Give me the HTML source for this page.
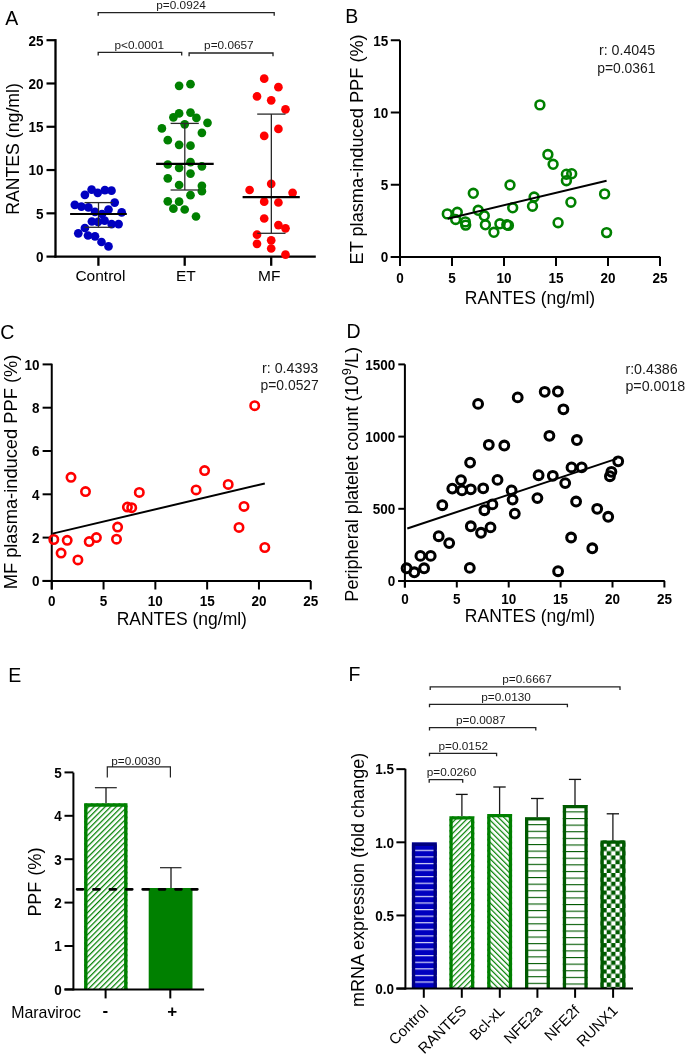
<!DOCTYPE html>
<html><head><meta charset="utf-8"><style>
html,body{margin:0;padding:0;background:#fff;}
svg{display:block;will-change:transform;}
text{font-family:"Liberation Sans", sans-serif;}
</style></head><body>
<svg width="685" height="1055" viewBox="0 0 685 1055" font-family='"Liberation Sans", sans-serif'>
<rect width="685" height="1055" fill="#fff"/>
<text x="5.30" y="24.80" font-size="19.5" text-anchor="start" font-weight="normal" fill="#000" >A</text>
<line x1="55.50" y1="39.10" x2="55.50" y2="257.60" stroke="#000" stroke-width="2.3" />
<line x1="54.50" y1="256.60" x2="315.80" y2="256.60" stroke="#000" stroke-width="2.3" />
<line x1="46.50" y1="256.60" x2="55.50" y2="256.60" stroke="#000" stroke-width="2.2" />
<text transform="translate(43.60,261.90) scale(1,1.07)" font-size="13.5" text-anchor="end" font-weight="bold">0</text>
<line x1="46.50" y1="213.32" x2="55.50" y2="213.32" stroke="#000" stroke-width="2.2" />
<text transform="translate(43.60,218.62) scale(1,1.07)" font-size="13.5" text-anchor="end" font-weight="bold">5</text>
<line x1="46.50" y1="170.04" x2="55.50" y2="170.04" stroke="#000" stroke-width="2.2" />
<text transform="translate(43.60,175.34) scale(1,1.07)" font-size="13.5" text-anchor="end" font-weight="bold">10</text>
<line x1="46.50" y1="126.76" x2="55.50" y2="126.76" stroke="#000" stroke-width="2.2" />
<text transform="translate(43.60,132.06) scale(1,1.07)" font-size="13.5" text-anchor="end" font-weight="bold">15</text>
<line x1="46.50" y1="83.48" x2="55.50" y2="83.48" stroke="#000" stroke-width="2.2" />
<text transform="translate(43.60,88.78) scale(1,1.07)" font-size="13.5" text-anchor="end" font-weight="bold">20</text>
<line x1="46.50" y1="40.20" x2="55.50" y2="40.20" stroke="#000" stroke-width="2.2" />
<text transform="translate(43.60,45.50) scale(1,1.07)" font-size="13.5" text-anchor="end" font-weight="bold">25</text>
<line x1="98.40" y1="256.60" x2="98.40" y2="265.80" stroke="#000" stroke-width="2.3" />
<text x="100.40" y="280.50" font-size="15.5" text-anchor="middle" font-weight="normal" fill="#000" >Control</text>
<line x1="184.70" y1="256.60" x2="184.70" y2="265.80" stroke="#000" stroke-width="2.3" />
<text x="185.80" y="280.50" font-size="15.5" text-anchor="middle" font-weight="normal" fill="#000" >ET</text>
<line x1="271.20" y1="256.60" x2="271.20" y2="265.80" stroke="#000" stroke-width="2.3" />
<text x="269.20" y="280.50" font-size="15.5" text-anchor="middle" font-weight="normal" fill="#000" >MF</text>
<text transform="translate(19.3,149) rotate(-90)" font-size="17.7" text-anchor="middle">RANTES (ng/ml)</text>
<circle cx="74.80" cy="204.80" r="4.35" fill="#0000c0" stroke="none" stroke-width="0"/>
<circle cx="81.40" cy="206.60" r="4.35" fill="#0000c0" stroke="none" stroke-width="0"/>
<circle cx="88.40" cy="207.40" r="4.35" fill="#0000c0" stroke="none" stroke-width="0"/>
<circle cx="95.00" cy="211.80" r="4.35" fill="#0000c0" stroke="none" stroke-width="0"/>
<circle cx="108.50" cy="209.60" r="4.35" fill="#0000c0" stroke="none" stroke-width="0"/>
<circle cx="114.70" cy="202.60" r="4.35" fill="#0000c0" stroke="none" stroke-width="0"/>
<circle cx="121.70" cy="212.30" r="4.35" fill="#0000c0" stroke="none" stroke-width="0"/>
<circle cx="102.00" cy="214.00" r="4.35" fill="#0000c0" stroke="none" stroke-width="0"/>
<circle cx="91.90" cy="221.50" r="4.35" fill="#0000c0" stroke="none" stroke-width="0"/>
<circle cx="98.00" cy="221.90" r="4.35" fill="#0000c0" stroke="none" stroke-width="0"/>
<circle cx="104.60" cy="220.60" r="4.35" fill="#0000c0" stroke="none" stroke-width="0"/>
<circle cx="111.60" cy="224.10" r="4.35" fill="#0000c0" stroke="none" stroke-width="0"/>
<circle cx="118.60" cy="224.10" r="4.35" fill="#0000c0" stroke="none" stroke-width="0"/>
<circle cx="84.90" cy="228.00" r="4.35" fill="#0000c0" stroke="none" stroke-width="0"/>
<circle cx="78.30" cy="233.30" r="4.35" fill="#0000c0" stroke="none" stroke-width="0"/>
<circle cx="88.00" cy="235.50" r="4.35" fill="#0000c0" stroke="none" stroke-width="0"/>
<circle cx="95.00" cy="236.30" r="4.35" fill="#0000c0" stroke="none" stroke-width="0"/>
<circle cx="101.50" cy="242.00" r="4.35" fill="#0000c0" stroke="none" stroke-width="0"/>
<circle cx="108.50" cy="246.40" r="4.35" fill="#0000c0" stroke="none" stroke-width="0"/>
<circle cx="91.60" cy="189.70" r="4.35" fill="#0000c0" stroke="none" stroke-width="0"/>
<circle cx="84.90" cy="194.80" r="4.35" fill="#0000c0" stroke="none" stroke-width="0"/>
<circle cx="97.70" cy="192.80" r="4.35" fill="#0000c0" stroke="none" stroke-width="0"/>
<circle cx="104.90" cy="190.20" r="4.35" fill="#0000c0" stroke="none" stroke-width="0"/>
<circle cx="111.50" cy="190.70" r="4.35" fill="#0000c0" stroke="none" stroke-width="0"/>
<circle cx="179.10" cy="85.80" r="4.35" fill="#008000" stroke="none" stroke-width="0"/>
<circle cx="190.50" cy="84.20" r="4.35" fill="#008000" stroke="none" stroke-width="0"/>
<circle cx="179.10" cy="113.40" r="4.35" fill="#008000" stroke="none" stroke-width="0"/>
<circle cx="173.40" cy="117.30" r="4.35" fill="#008000" stroke="none" stroke-width="0"/>
<circle cx="190.50" cy="112.60" r="4.35" fill="#008000" stroke="none" stroke-width="0"/>
<circle cx="196.40" cy="117.90" r="4.35" fill="#008000" stroke="none" stroke-width="0"/>
<circle cx="207.50" cy="122.80" r="4.35" fill="#008000" stroke="none" stroke-width="0"/>
<circle cx="184.70" cy="124.30" r="4.35" fill="#008000" stroke="none" stroke-width="0"/>
<circle cx="161.90" cy="128.40" r="4.35" fill="#008000" stroke="none" stroke-width="0"/>
<circle cx="201.90" cy="132.80" r="4.35" fill="#008000" stroke="none" stroke-width="0"/>
<circle cx="167.80" cy="140.20" r="4.35" fill="#008000" stroke="none" stroke-width="0"/>
<circle cx="179.10" cy="144.80" r="4.35" fill="#008000" stroke="none" stroke-width="0"/>
<circle cx="190.50" cy="145.70" r="4.35" fill="#008000" stroke="none" stroke-width="0"/>
<circle cx="167.80" cy="164.50" r="4.35" fill="#008000" stroke="none" stroke-width="0"/>
<circle cx="179.10" cy="167.80" r="4.35" fill="#008000" stroke="none" stroke-width="0"/>
<circle cx="190.50" cy="162.20" r="4.35" fill="#008000" stroke="none" stroke-width="0"/>
<circle cx="201.90" cy="166.30" r="4.35" fill="#008000" stroke="none" stroke-width="0"/>
<circle cx="190.50" cy="173.60" r="4.35" fill="#008000" stroke="none" stroke-width="0"/>
<circle cx="167.80" cy="178.30" r="4.35" fill="#008000" stroke="none" stroke-width="0"/>
<circle cx="179.10" cy="185.00" r="4.35" fill="#008000" stroke="none" stroke-width="0"/>
<circle cx="201.90" cy="185.80" r="4.35" fill="#008000" stroke="none" stroke-width="0"/>
<circle cx="201.90" cy="191.20" r="4.35" fill="#008000" stroke="none" stroke-width="0"/>
<circle cx="190.50" cy="195.20" r="4.35" fill="#008000" stroke="none" stroke-width="0"/>
<circle cx="167.80" cy="201.30" r="4.35" fill="#008000" stroke="none" stroke-width="0"/>
<circle cx="179.10" cy="201.70" r="4.35" fill="#008000" stroke="none" stroke-width="0"/>
<circle cx="173.40" cy="208.70" r="4.35" fill="#008000" stroke="none" stroke-width="0"/>
<circle cx="184.70" cy="209.50" r="4.35" fill="#008000" stroke="none" stroke-width="0"/>
<circle cx="196.00" cy="216.50" r="4.35" fill="#008000" stroke="none" stroke-width="0"/>
<circle cx="264.20" cy="78.70" r="4.35" fill="#ff0000" stroke="none" stroke-width="0"/>
<circle cx="278.40" cy="87.20" r="4.35" fill="#ff0000" stroke="none" stroke-width="0"/>
<circle cx="257.00" cy="96.40" r="4.35" fill="#ff0000" stroke="none" stroke-width="0"/>
<circle cx="271.20" cy="100.30" r="4.35" fill="#ff0000" stroke="none" stroke-width="0"/>
<circle cx="285.50" cy="109.30" r="4.35" fill="#ff0000" stroke="none" stroke-width="0"/>
<circle cx="278.40" cy="128.90" r="4.35" fill="#ff0000" stroke="none" stroke-width="0"/>
<circle cx="264.20" cy="135.90" r="4.35" fill="#ff0000" stroke="none" stroke-width="0"/>
<circle cx="271.20" cy="183.80" r="4.35" fill="#ff0000" stroke="none" stroke-width="0"/>
<circle cx="249.60" cy="190.00" r="4.35" fill="#ff0000" stroke="none" stroke-width="0"/>
<circle cx="292.60" cy="192.80" r="4.35" fill="#ff0000" stroke="none" stroke-width="0"/>
<circle cx="264.20" cy="201.70" r="4.35" fill="#ff0000" stroke="none" stroke-width="0"/>
<circle cx="278.40" cy="202.50" r="4.35" fill="#ff0000" stroke="none" stroke-width="0"/>
<circle cx="264.20" cy="218.50" r="4.35" fill="#ff0000" stroke="none" stroke-width="0"/>
<circle cx="278.40" cy="225.10" r="4.35" fill="#ff0000" stroke="none" stroke-width="0"/>
<circle cx="285.50" cy="228.30" r="4.35" fill="#ff0000" stroke="none" stroke-width="0"/>
<circle cx="257.00" cy="234.70" r="4.35" fill="#ff0000" stroke="none" stroke-width="0"/>
<circle cx="271.20" cy="240.30" r="4.35" fill="#ff0000" stroke="none" stroke-width="0"/>
<circle cx="257.00" cy="243.80" r="4.35" fill="#ff0000" stroke="none" stroke-width="0"/>
<circle cx="271.20" cy="248.50" r="4.35" fill="#ff0000" stroke="none" stroke-width="0"/>
<circle cx="285.50" cy="254.70" r="4.35" fill="#ff0000" stroke="none" stroke-width="0"/>
<line x1="98.50" y1="202.60" x2="98.50" y2="227.30" stroke="#2a2a2a" stroke-width="1.3" />
<line x1="84.50" y1="202.60" x2="112.50" y2="202.60" stroke="#2a2a2a" stroke-width="1.3" />
<line x1="84.50" y1="227.30" x2="112.50" y2="227.30" stroke="#2a2a2a" stroke-width="1.3" />
<line x1="70.10" y1="214.00" x2="126.80" y2="214.00" stroke="#000" stroke-width="2.2" />
<line x1="184.80" y1="123.40" x2="184.80" y2="190.00" stroke="#2a2a2a" stroke-width="1.3" />
<line x1="170.60" y1="123.40" x2="198.80" y2="123.40" stroke="#2a2a2a" stroke-width="1.3" />
<line x1="170.60" y1="190.00" x2="198.80" y2="190.00" stroke="#2a2a2a" stroke-width="1.3" />
<line x1="156.10" y1="163.80" x2="213.70" y2="163.80" stroke="#000" stroke-width="2.2" />
<line x1="271.35" y1="114.10" x2="271.35" y2="233.30" stroke="#2a2a2a" stroke-width="1.3" />
<line x1="257.20" y1="114.10" x2="285.50" y2="114.10" stroke="#2a2a2a" stroke-width="1.3" />
<line x1="257.20" y1="233.30" x2="285.50" y2="233.30" stroke="#2a2a2a" stroke-width="1.3" />
<line x1="242.60" y1="197.20" x2="299.80" y2="197.20" stroke="#000" stroke-width="2.2" />
<path d="M98.20,15.80 V12.60 H274.20 V15.80" fill="none" stroke="#222" stroke-width="1.3"/>
<path d="M98.20,55.50 V52.30 H181.70 V55.50" fill="none" stroke="#222" stroke-width="1.3"/>
<path d="M189.10,56.20 V53.00 H273.00 V56.20" fill="none" stroke="#222" stroke-width="1.3"/>
<text x="156.30" y="9.20" font-size="11.8" text-anchor="start" font-weight="normal" fill="#1a1a1a" >p=0.0924</text>
<text x="114.50" y="48.70" font-size="11.8" text-anchor="start" font-weight="normal" fill="#1a1a1a" >p&lt;0.0001</text>
<text x="204.10" y="49.10" font-size="11.8" text-anchor="start" font-weight="normal" fill="#1a1a1a" >p=0.0657</text>
<text x="345.30" y="22.60" font-size="19.5" text-anchor="start" font-weight="normal" fill="#000" >B</text>
<line x1="400.00" y1="40.20" x2="400.00" y2="266.00" stroke="#000" stroke-width="2" />
<line x1="390.80" y1="257.00" x2="660.20" y2="257.00" stroke="#000" stroke-width="2" />
<line x1="390.80" y1="257.00" x2="400.00" y2="257.00" stroke="#000" stroke-width="2" />
<text transform="translate(388.20,262.30) scale(1,1.07)" font-size="13.5" text-anchor="end" font-weight="bold">0</text>
<line x1="390.80" y1="184.75" x2="400.00" y2="184.75" stroke="#000" stroke-width="2" />
<text transform="translate(388.20,190.05) scale(1,1.07)" font-size="13.5" text-anchor="end" font-weight="bold">5</text>
<line x1="390.80" y1="112.50" x2="400.00" y2="112.50" stroke="#000" stroke-width="2" />
<text transform="translate(388.20,117.80) scale(1,1.07)" font-size="13.5" text-anchor="end" font-weight="bold">10</text>
<line x1="390.80" y1="40.25" x2="400.00" y2="40.25" stroke="#000" stroke-width="2" />
<text transform="translate(388.20,45.55) scale(1,1.07)" font-size="13.5" text-anchor="end" font-weight="bold">15</text>
<line x1="400.00" y1="257.00" x2="400.00" y2="266.00" stroke="#000" stroke-width="2" />
<text transform="translate(400.00,282.60) scale(1,1.07)" font-size="13.5" text-anchor="middle" font-weight="bold">0</text>
<line x1="452.00" y1="257.00" x2="452.00" y2="266.00" stroke="#000" stroke-width="2" />
<text transform="translate(452.00,282.60) scale(1,1.07)" font-size="13.5" text-anchor="middle" font-weight="bold">5</text>
<line x1="504.00" y1="257.00" x2="504.00" y2="266.00" stroke="#000" stroke-width="2" />
<text transform="translate(504.00,282.60) scale(1,1.07)" font-size="13.5" text-anchor="middle" font-weight="bold">10</text>
<line x1="556.00" y1="257.00" x2="556.00" y2="266.00" stroke="#000" stroke-width="2" />
<text transform="translate(556.00,282.60) scale(1,1.07)" font-size="13.5" text-anchor="middle" font-weight="bold">15</text>
<line x1="608.00" y1="257.00" x2="608.00" y2="266.00" stroke="#000" stroke-width="2" />
<text transform="translate(608.00,282.60) scale(1,1.07)" font-size="13.5" text-anchor="middle" font-weight="bold">20</text>
<line x1="660.00" y1="257.00" x2="660.00" y2="266.00" stroke="#000" stroke-width="2" />
<text transform="translate(660.00,282.60) scale(1,1.07)" font-size="13.5" text-anchor="middle" font-weight="bold">25</text>
<text x="530.00" y="303.90" font-size="17.5" text-anchor="middle" font-weight="normal" fill="#000" >RANTES (ng/ml)</text>
<text transform="translate(363.1,149.4) rotate(-90)" font-size="18.2" text-anchor="middle">ET plasma-induced PPF (%)</text>
<text x="598.90" y="55.00" font-size="14.25" text-anchor="start" font-weight="normal" fill="#1a1a1a" >r: 0.4045</text>
<text x="597.20" y="72.70" font-size="13.9" text-anchor="start" font-weight="normal" fill="#1a1a1a" >p=0.0361</text>
<circle cx="447.30" cy="213.90" r="4.4" fill="none" stroke="#008000" stroke-width="2.6"/>
<circle cx="457.30" cy="212.30" r="4.4" fill="none" stroke="#008000" stroke-width="2.6"/>
<circle cx="455.70" cy="219.50" r="4.4" fill="none" stroke="#008000" stroke-width="2.6"/>
<circle cx="465.30" cy="221.90" r="4.4" fill="none" stroke="#008000" stroke-width="2.6"/>
<circle cx="465.70" cy="225.10" r="4.4" fill="none" stroke="#008000" stroke-width="2.6"/>
<circle cx="473.30" cy="193.30" r="4.4" fill="none" stroke="#008000" stroke-width="2.6"/>
<circle cx="478.20" cy="210.30" r="4.4" fill="none" stroke="#008000" stroke-width="2.6"/>
<circle cx="484.30" cy="215.80" r="4.4" fill="none" stroke="#008000" stroke-width="2.6"/>
<circle cx="485.40" cy="224.80" r="4.4" fill="none" stroke="#008000" stroke-width="2.6"/>
<circle cx="493.90" cy="232.30" r="4.4" fill="none" stroke="#008000" stroke-width="2.6"/>
<circle cx="499.90" cy="223.80" r="4.4" fill="none" stroke="#008000" stroke-width="2.6"/>
<circle cx="506.80" cy="224.80" r="4.4" fill="none" stroke="#008000" stroke-width="2.6"/>
<circle cx="508.40" cy="225.40" r="4.4" fill="none" stroke="#008000" stroke-width="2.6"/>
<circle cx="510.00" cy="185.00" r="4.4" fill="none" stroke="#008000" stroke-width="2.6"/>
<circle cx="512.70" cy="207.80" r="4.4" fill="none" stroke="#008000" stroke-width="2.6"/>
<circle cx="532.50" cy="206.20" r="4.4" fill="none" stroke="#008000" stroke-width="2.6"/>
<circle cx="534.10" cy="197.00" r="4.4" fill="none" stroke="#008000" stroke-width="2.6"/>
<circle cx="539.90" cy="104.90" r="4.4" fill="none" stroke="#008000" stroke-width="2.6"/>
<circle cx="547.90" cy="154.50" r="4.4" fill="none" stroke="#008000" stroke-width="2.6"/>
<circle cx="553.10" cy="164.30" r="4.4" fill="none" stroke="#008000" stroke-width="2.6"/>
<circle cx="566.40" cy="174.20" r="4.4" fill="none" stroke="#008000" stroke-width="2.6"/>
<circle cx="571.70" cy="173.70" r="4.4" fill="none" stroke="#008000" stroke-width="2.6"/>
<circle cx="566.40" cy="180.70" r="4.4" fill="none" stroke="#008000" stroke-width="2.6"/>
<circle cx="570.90" cy="202.20" r="4.4" fill="none" stroke="#008000" stroke-width="2.6"/>
<circle cx="604.60" cy="193.90" r="4.4" fill="none" stroke="#008000" stroke-width="2.6"/>
<circle cx="558.10" cy="222.70" r="4.4" fill="none" stroke="#008000" stroke-width="2.6"/>
<circle cx="606.60" cy="232.60" r="4.4" fill="none" stroke="#008000" stroke-width="2.6"/>
<line x1="447.70" y1="218.70" x2="606.60" y2="180.70" stroke="#000" stroke-width="2" />
<text x="0.30" y="338.60" font-size="19.5" text-anchor="start" font-weight="normal" fill="#000" >C</text>
<line x1="51.75" y1="363.70" x2="51.75" y2="589.50" stroke="#000" stroke-width="2" />
<line x1="42.60" y1="580.90" x2="311.00" y2="580.90" stroke="#000" stroke-width="2" />
<line x1="42.60" y1="580.90" x2="51.75" y2="580.90" stroke="#000" stroke-width="2" />
<text transform="translate(39.60,586.20) scale(1,1.07)" font-size="13.5" text-anchor="end" font-weight="bold">0</text>
<line x1="42.60" y1="537.60" x2="51.75" y2="537.60" stroke="#000" stroke-width="2" />
<text transform="translate(39.60,542.90) scale(1,1.07)" font-size="13.5" text-anchor="end" font-weight="bold">2</text>
<line x1="42.60" y1="494.30" x2="51.75" y2="494.30" stroke="#000" stroke-width="2" />
<text transform="translate(39.60,499.60) scale(1,1.07)" font-size="13.5" text-anchor="end" font-weight="bold">4</text>
<line x1="42.60" y1="451.00" x2="51.75" y2="451.00" stroke="#000" stroke-width="2" />
<text transform="translate(39.60,456.30) scale(1,1.07)" font-size="13.5" text-anchor="end" font-weight="bold">6</text>
<line x1="42.60" y1="407.70" x2="51.75" y2="407.70" stroke="#000" stroke-width="2" />
<text transform="translate(39.60,413.00) scale(1,1.07)" font-size="13.5" text-anchor="end" font-weight="bold">8</text>
<line x1="42.60" y1="364.40" x2="51.75" y2="364.40" stroke="#000" stroke-width="2" />
<text transform="translate(39.60,369.70) scale(1,1.07)" font-size="13.5" text-anchor="end" font-weight="bold">10</text>
<line x1="51.75" y1="580.90" x2="51.75" y2="589.50" stroke="#000" stroke-width="2" />
<text transform="translate(51.75,605.80) scale(1,1.07)" font-size="13.5" text-anchor="middle" font-weight="bold">0</text>
<line x1="103.55" y1="580.90" x2="103.55" y2="589.50" stroke="#000" stroke-width="2" />
<text transform="translate(103.55,605.80) scale(1,1.07)" font-size="13.5" text-anchor="middle" font-weight="bold">5</text>
<line x1="155.35" y1="580.90" x2="155.35" y2="589.50" stroke="#000" stroke-width="2" />
<text transform="translate(155.35,605.80) scale(1,1.07)" font-size="13.5" text-anchor="middle" font-weight="bold">10</text>
<line x1="207.15" y1="580.90" x2="207.15" y2="589.50" stroke="#000" stroke-width="2" />
<text transform="translate(207.15,605.80) scale(1,1.07)" font-size="13.5" text-anchor="middle" font-weight="bold">15</text>
<line x1="258.95" y1="580.90" x2="258.95" y2="589.50" stroke="#000" stroke-width="2" />
<text transform="translate(258.95,605.80) scale(1,1.07)" font-size="13.5" text-anchor="middle" font-weight="bold">20</text>
<line x1="310.75" y1="580.90" x2="310.75" y2="589.50" stroke="#000" stroke-width="2" />
<text transform="translate(310.75,605.80) scale(1,1.07)" font-size="13.5" text-anchor="middle" font-weight="bold">25</text>
<text x="181.80" y="625.00" font-size="17.5" text-anchor="middle" font-weight="normal" fill="#000" >RANTES (ng/ml)</text>
<text transform="translate(17.3,472) rotate(-90)" font-size="18.3" text-anchor="middle">MF plasma-induced PPF (%)</text>
<text x="262.00" y="372.80" font-size="14.25" text-anchor="start" font-weight="normal" fill="#1a1a1a" >r: 0.4393</text>
<text x="260.50" y="390.10" font-size="13.9" text-anchor="start" font-weight="normal" fill="#1a1a1a" >p=0.0527</text>
<circle cx="71.00" cy="477.30" r="4.2" fill="none" stroke="#ff0000" stroke-width="2.6"/>
<circle cx="85.50" cy="491.60" r="4.2" fill="none" stroke="#ff0000" stroke-width="2.6"/>
<circle cx="139.30" cy="492.40" r="4.2" fill="none" stroke="#ff0000" stroke-width="2.6"/>
<circle cx="127.40" cy="507.10" r="4.2" fill="none" stroke="#ff0000" stroke-width="2.6"/>
<circle cx="131.70" cy="507.70" r="4.2" fill="none" stroke="#ff0000" stroke-width="2.6"/>
<circle cx="117.60" cy="527.10" r="4.2" fill="none" stroke="#ff0000" stroke-width="2.6"/>
<circle cx="53.80" cy="539.50" r="4.2" fill="none" stroke="#ff0000" stroke-width="2.6"/>
<circle cx="67.20" cy="540.30" r="4.2" fill="none" stroke="#ff0000" stroke-width="2.6"/>
<circle cx="89.20" cy="541.60" r="4.2" fill="none" stroke="#ff0000" stroke-width="2.6"/>
<circle cx="96.40" cy="537.60" r="4.2" fill="none" stroke="#ff0000" stroke-width="2.6"/>
<circle cx="116.50" cy="539.20" r="4.2" fill="none" stroke="#ff0000" stroke-width="2.6"/>
<circle cx="61.10" cy="553.10" r="4.2" fill="none" stroke="#ff0000" stroke-width="2.6"/>
<circle cx="77.90" cy="559.90" r="4.2" fill="none" stroke="#ff0000" stroke-width="2.6"/>
<circle cx="254.70" cy="405.70" r="4.2" fill="none" stroke="#ff0000" stroke-width="2.6"/>
<circle cx="204.60" cy="470.60" r="4.2" fill="none" stroke="#ff0000" stroke-width="2.6"/>
<circle cx="228.20" cy="484.40" r="4.2" fill="none" stroke="#ff0000" stroke-width="2.6"/>
<circle cx="196.10" cy="489.90" r="4.2" fill="none" stroke="#ff0000" stroke-width="2.6"/>
<circle cx="244.00" cy="506.40" r="4.2" fill="none" stroke="#ff0000" stroke-width="2.6"/>
<circle cx="239.00" cy="527.40" r="4.2" fill="none" stroke="#ff0000" stroke-width="2.6"/>
<circle cx="264.80" cy="547.50" r="4.2" fill="none" stroke="#ff0000" stroke-width="2.6"/>
<line x1="52.50" y1="533.60" x2="264.80" y2="483.50" stroke="#000" stroke-width="2" />
<text x="346.50" y="338.30" font-size="19.5" text-anchor="start" font-weight="normal" fill="#000" >D</text>
<line x1="404.90" y1="364.30" x2="404.90" y2="587.50" stroke="#000" stroke-width="2" />
<line x1="398.30" y1="581.00" x2="664.80" y2="581.00" stroke="#000" stroke-width="2" />
<line x1="398.30" y1="581.00" x2="404.90" y2="581.00" stroke="#000" stroke-width="2" />
<text transform="translate(395.20,586.30) scale(1,1.07)" font-size="13.5" text-anchor="end" font-weight="bold">0</text>
<line x1="398.30" y1="508.80" x2="404.90" y2="508.80" stroke="#000" stroke-width="2" />
<text transform="translate(395.20,514.10) scale(1,1.07)" font-size="13.5" text-anchor="end" font-weight="bold">500</text>
<line x1="398.30" y1="436.60" x2="404.90" y2="436.60" stroke="#000" stroke-width="2" />
<text transform="translate(395.20,441.90) scale(1,1.07)" font-size="13.5" text-anchor="end" font-weight="bold">1000</text>
<line x1="398.30" y1="364.40" x2="404.90" y2="364.40" stroke="#000" stroke-width="2" />
<text transform="translate(395.20,369.70) scale(1,1.07)" font-size="13.5" text-anchor="end" font-weight="bold">1500</text>
<line x1="404.90" y1="581.00" x2="404.90" y2="587.50" stroke="#000" stroke-width="2" />
<text transform="translate(404.90,603.70) scale(1,1.07)" font-size="13.5" text-anchor="middle" font-weight="bold">0</text>
<line x1="456.80" y1="581.00" x2="456.80" y2="587.50" stroke="#000" stroke-width="2" />
<text transform="translate(456.80,603.70) scale(1,1.07)" font-size="13.5" text-anchor="middle" font-weight="bold">5</text>
<line x1="508.70" y1="581.00" x2="508.70" y2="587.50" stroke="#000" stroke-width="2" />
<text transform="translate(508.70,603.70) scale(1,1.07)" font-size="13.5" text-anchor="middle" font-weight="bold">10</text>
<line x1="560.60" y1="581.00" x2="560.60" y2="587.50" stroke="#000" stroke-width="2" />
<text transform="translate(560.60,603.70) scale(1,1.07)" font-size="13.5" text-anchor="middle" font-weight="bold">15</text>
<line x1="612.50" y1="581.00" x2="612.50" y2="587.50" stroke="#000" stroke-width="2" />
<text transform="translate(612.50,603.70) scale(1,1.07)" font-size="13.5" text-anchor="middle" font-weight="bold">20</text>
<line x1="664.40" y1="581.00" x2="664.40" y2="587.50" stroke="#000" stroke-width="2" />
<text transform="translate(664.40,603.70) scale(1,1.07)" font-size="13.5" text-anchor="middle" font-weight="bold">25</text>
<text x="530.00" y="622.20" font-size="17.5" text-anchor="middle" font-weight="normal" fill="#000" >RANTES (ng/ml)</text>
<text transform="translate(358.3,474.3) rotate(-90)" font-size="18.1" text-anchor="middle">Peripheral platelet count (10<tspan font-size="13" dy="-7.5">9</tspan><tspan dy="7.5">/L)</tspan></text>
<text x="625.40" y="373.50" font-size="14.25" text-anchor="start" font-weight="normal" fill="#1a1a1a" >r:0.4386</text>
<text x="625.40" y="390.80" font-size="14.25" text-anchor="start" font-weight="normal" fill="#1a1a1a" >p=0.0018</text>
<circle cx="406.60" cy="568.30" r="4.4" fill="none" stroke="#000" stroke-width="3.05"/>
<circle cx="414.30" cy="572.30" r="4.4" fill="none" stroke="#000" stroke-width="3.05"/>
<circle cx="424.10" cy="568.30" r="4.4" fill="none" stroke="#000" stroke-width="3.05"/>
<circle cx="420.40" cy="555.90" r="4.4" fill="none" stroke="#000" stroke-width="3.05"/>
<circle cx="430.70" cy="555.90" r="4.4" fill="none" stroke="#000" stroke-width="3.05"/>
<circle cx="438.70" cy="536.20" r="4.4" fill="none" stroke="#000" stroke-width="3.05"/>
<circle cx="449.20" cy="543.10" r="4.4" fill="none" stroke="#000" stroke-width="3.05"/>
<circle cx="442.30" cy="505.20" r="4.4" fill="none" stroke="#000" stroke-width="3.05"/>
<circle cx="452.30" cy="488.60" r="4.4" fill="none" stroke="#000" stroke-width="3.05"/>
<circle cx="461.00" cy="480.10" r="4.4" fill="none" stroke="#000" stroke-width="3.05"/>
<circle cx="462.00" cy="490.40" r="4.4" fill="none" stroke="#000" stroke-width="3.05"/>
<circle cx="470.80" cy="489.30" r="4.4" fill="none" stroke="#000" stroke-width="3.05"/>
<circle cx="470.10" cy="462.60" r="4.4" fill="none" stroke="#000" stroke-width="3.05"/>
<circle cx="478.10" cy="403.90" r="4.4" fill="none" stroke="#000" stroke-width="3.05"/>
<circle cx="483.20" cy="488.30" r="4.4" fill="none" stroke="#000" stroke-width="3.05"/>
<circle cx="488.80" cy="444.80" r="4.4" fill="none" stroke="#000" stroke-width="3.05"/>
<circle cx="504.30" cy="445.50" r="4.4" fill="none" stroke="#000" stroke-width="3.05"/>
<circle cx="497.50" cy="479.90" r="4.4" fill="none" stroke="#000" stroke-width="3.05"/>
<circle cx="492.40" cy="504.40" r="4.4" fill="none" stroke="#000" stroke-width="3.05"/>
<circle cx="484.40" cy="510.20" r="4.4" fill="none" stroke="#000" stroke-width="3.05"/>
<circle cx="470.80" cy="526.30" r="4.4" fill="none" stroke="#000" stroke-width="3.05"/>
<circle cx="481.00" cy="532.80" r="4.4" fill="none" stroke="#000" stroke-width="3.05"/>
<circle cx="490.50" cy="527.40" r="4.4" fill="none" stroke="#000" stroke-width="3.05"/>
<circle cx="469.80" cy="567.90" r="4.4" fill="none" stroke="#000" stroke-width="3.05"/>
<circle cx="511.60" cy="490.40" r="4.4" fill="none" stroke="#000" stroke-width="3.05"/>
<circle cx="512.60" cy="499.60" r="4.4" fill="none" stroke="#000" stroke-width="3.05"/>
<circle cx="514.80" cy="513.60" r="4.4" fill="none" stroke="#000" stroke-width="3.05"/>
<circle cx="517.70" cy="397.40" r="4.4" fill="none" stroke="#000" stroke-width="3.05"/>
<circle cx="544.70" cy="391.80" r="4.4" fill="none" stroke="#000" stroke-width="3.05"/>
<circle cx="557.90" cy="391.50" r="4.4" fill="none" stroke="#000" stroke-width="3.05"/>
<circle cx="563.40" cy="409.30" r="4.4" fill="none" stroke="#000" stroke-width="3.05"/>
<circle cx="549.40" cy="435.80" r="4.4" fill="none" stroke="#000" stroke-width="3.05"/>
<circle cx="576.90" cy="440.00" r="4.4" fill="none" stroke="#000" stroke-width="3.05"/>
<circle cx="538.60" cy="475.20" r="4.4" fill="none" stroke="#000" stroke-width="3.05"/>
<circle cx="552.80" cy="475.80" r="4.4" fill="none" stroke="#000" stroke-width="3.05"/>
<circle cx="565.20" cy="483.10" r="4.4" fill="none" stroke="#000" stroke-width="3.05"/>
<circle cx="571.50" cy="467.40" r="4.4" fill="none" stroke="#000" stroke-width="3.05"/>
<circle cx="581.70" cy="467.40" r="4.4" fill="none" stroke="#000" stroke-width="3.05"/>
<circle cx="537.40" cy="498.10" r="4.4" fill="none" stroke="#000" stroke-width="3.05"/>
<circle cx="576.10" cy="501.50" r="4.4" fill="none" stroke="#000" stroke-width="3.05"/>
<circle cx="571.10" cy="537.50" r="4.4" fill="none" stroke="#000" stroke-width="3.05"/>
<circle cx="592.30" cy="548.30" r="4.4" fill="none" stroke="#000" stroke-width="3.05"/>
<circle cx="558.10" cy="571.20" r="4.4" fill="none" stroke="#000" stroke-width="3.05"/>
<circle cx="597.20" cy="508.80" r="4.4" fill="none" stroke="#000" stroke-width="3.05"/>
<circle cx="608.20" cy="516.80" r="4.4" fill="none" stroke="#000" stroke-width="3.05"/>
<circle cx="618.20" cy="461.30" r="4.4" fill="none" stroke="#000" stroke-width="3.05"/>
<circle cx="611.40" cy="471.80" r="4.4" fill="none" stroke="#000" stroke-width="3.05"/>
<circle cx="609.90" cy="476.20" r="4.4" fill="none" stroke="#000" stroke-width="3.05"/>
<line x1="407.30" y1="528.50" x2="617.00" y2="458.60" stroke="#000" stroke-width="2" />
<text x="8.20" y="681.50" font-size="19.5" text-anchor="start" font-weight="normal" fill="#000" >E</text>
<defs><pattern id="hatchE" patternUnits="userSpaceOnUse" x="0.7" width="3.9" height="3.9" patternTransform="rotate(45)"><rect width="3.9" height="3.9" fill="#fff"/><rect x="0" y="0" width="1.25" height="3.9" fill="#008000"/></pattern><pattern id="hatchF1" patternUnits="userSpaceOnUse" width="3.9" height="3.9" patternTransform="rotate(45)"><rect width="3.9" height="3.9" fill="#fff"/><rect x="0" y="0" width="1.2" height="3.9" fill="#008000"/></pattern><pattern id="hatchF2" patternUnits="userSpaceOnUse" width="3.9" height="3.9" patternTransform="rotate(-45)"><rect width="3.9" height="3.9" fill="#fff"/><rect x="0" y="0" width="1.2" height="3.9" fill="#008000"/></pattern><pattern id="hlinesA" patternUnits="userSpaceOnUse" width="10" height="6.61" y="824.15"><rect width="10" height="6.61" fill="#fff"/><rect x="0" y="0" width="10" height="1.1" fill="#005a00"/></pattern><pattern id="hlinesF" patternUnits="userSpaceOnUse" width="10" height="6.62" y="811.35"><rect width="10" height="6.62" fill="#fff"/><rect x="0" y="0" width="10" height="1.1" fill="#005a00"/></pattern><pattern id="hlinesB" patternUnits="userSpaceOnUse" width="10" height="6.585" y="849.75"><rect width="10" height="6.585" fill="#0000c0"/><rect x="0" y="0" width="10" height="1.2" fill="#d8d8f8"/></pattern><pattern id="checker" patternUnits="userSpaceOnUse" width="8.76" height="8.76" x="606.7" y="846.7"><rect width="8.76" height="8.76" fill="#005a00"/><rect width="4.38" height="4.38" fill="#fff"/><rect x="4.38" y="4.38" width="4.38" height="4.38" fill="#fff"/></pattern></defs>
<rect x="84.10" y="803.30" width="43.40" height="186.10" fill="url(#hatchE)"/>
<path d="M85.80,989.40 V805.00 H125.80 V989.40" fill="none" stroke="#008000" stroke-width="3.4"/>
<rect x="148.7" y="888" width="43.8" height="101.40" fill="#008000"/>
<line x1="73.40" y1="772.60" x2="73.40" y2="990.40" stroke="#000" stroke-width="2" />
<line x1="64.50" y1="989.40" x2="204.10" y2="989.40" stroke="#000" stroke-width="2" />
<line x1="64.50" y1="989.40" x2="73.40" y2="989.40" stroke="#000" stroke-width="2" />
<text transform="translate(61.80,994.70) scale(1,1.07)" font-size="13.5" text-anchor="end" font-weight="bold">0</text>
<line x1="64.50" y1="946.00" x2="73.40" y2="946.00" stroke="#000" stroke-width="2" />
<text transform="translate(61.80,951.30) scale(1,1.07)" font-size="13.5" text-anchor="end" font-weight="bold">1</text>
<line x1="64.50" y1="902.60" x2="73.40" y2="902.60" stroke="#000" stroke-width="2" />
<text transform="translate(61.80,907.90) scale(1,1.07)" font-size="13.5" text-anchor="end" font-weight="bold">2</text>
<line x1="64.50" y1="859.20" x2="73.40" y2="859.20" stroke="#000" stroke-width="2" />
<text transform="translate(61.80,864.50) scale(1,1.07)" font-size="13.5" text-anchor="end" font-weight="bold">3</text>
<line x1="64.50" y1="815.80" x2="73.40" y2="815.80" stroke="#000" stroke-width="2" />
<text transform="translate(61.80,821.10) scale(1,1.07)" font-size="13.5" text-anchor="end" font-weight="bold">4</text>
<line x1="64.50" y1="772.40" x2="73.40" y2="772.40" stroke="#000" stroke-width="2" />
<text transform="translate(61.80,777.70) scale(1,1.07)" font-size="13.5" text-anchor="end" font-weight="bold">5</text>
<line x1="105.60" y1="989.40" x2="105.60" y2="998.40" stroke="#000" stroke-width="2" />
<line x1="170.30" y1="989.40" x2="170.30" y2="998.40" stroke="#000" stroke-width="2" />
<line x1="106.00" y1="803.30" x2="106.00" y2="787.70" stroke="#1a1a1a" stroke-width="1.3" />
<line x1="94.90" y1="787.70" x2="116.80" y2="787.70" stroke="#222" stroke-width="1.2" />
<line x1="171.00" y1="888.00" x2="171.00" y2="867.70" stroke="#1a1a1a" stroke-width="1.3" />
<line x1="160.00" y1="867.70" x2="181.50" y2="867.70" stroke="#222" stroke-width="1.2" />
<line x1="77.10" y1="889.30" x2="197.30" y2="889.30" stroke="#000" stroke-width="2.8" stroke-dasharray="5.9 10.5" stroke-linecap="round"/>
<path d="M107.30,777.40 V766.80 H170.40 V777.40" fill="none" stroke="#222" stroke-width="1.2"/>
<text x="111.20" y="764.60" font-size="11.8" text-anchor="start" font-weight="normal" fill="#1a1a1a" >p=0.0030</text>
<text transform="translate(41,916.6) rotate(-90)" font-size="17.9" text-anchor="start">PPF</text>
<text transform="translate(41,847.4) rotate(-90)" font-size="18.3" text-anchor="end">(%)</text>
<text x="11.20" y="1018.10" font-size="15.9" text-anchor="start" font-weight="normal" fill="#000" >Maraviroc</text>
<text x="105.30" y="1016.00" font-size="17" text-anchor="middle" font-weight="bold" fill="#000" >-</text>
<text x="172.30" y="1016.50" font-size="17" text-anchor="middle" font-weight="bold" fill="#000" >+</text>
<text x="348.50" y="681.40" font-size="19.5" text-anchor="start" font-weight="normal" fill="#000" >F</text>
<rect x="411.90" y="842.60" width="24.90" height="146.00" fill="url(#hlinesB)"/>
<path d="M413.55,988.60 V844.25 H435.15 V988.60" fill="none" stroke="#000080" stroke-width="3.3"/>
<rect x="449.40" y="816.30" width="24.90" height="172.30" fill="url(#hatchF1)"/>
<path d="M451.05,988.60 V817.95 H472.65 V988.60" fill="none" stroke="#008000" stroke-width="3.3"/>
<rect x="487.20" y="814.00" width="24.90" height="174.60" fill="url(#hatchF2)"/>
<path d="M488.85,988.60 V815.65 H510.45 V988.60" fill="none" stroke="#008000" stroke-width="3.3"/>
<rect x="525.00" y="817.30" width="24.90" height="171.30" fill="url(#hlinesA)"/>
<path d="M526.65,988.60 V818.95 H548.25 V988.60" fill="none" stroke="#005a00" stroke-width="3.3"/>
<rect x="562.80" y="805.00" width="24.90" height="183.60" fill="url(#hlinesF)"/>
<path d="M564.45,988.60 V806.65 H586.05 V988.60" fill="none" stroke="#005a00" stroke-width="3.3"/>
<rect x="600.50" y="840.40" width="24.90" height="148.20" fill="url(#checker)"/>
<path d="M602.15,988.60 V842.05 H623.75 V988.60" fill="none" stroke="#005a00" stroke-width="3.3"/>
<line x1="405.40" y1="768.80" x2="405.40" y2="989.60" stroke="#000" stroke-width="2" />
<line x1="396.40" y1="988.60" x2="633.00" y2="988.60" stroke="#000" stroke-width="2" />
<line x1="396.40" y1="988.60" x2="405.40" y2="988.60" stroke="#000" stroke-width="2" />
<text transform="translate(394.10,993.90) scale(1,1.07)" font-size="13.5" text-anchor="end" font-weight="bold">0.0</text>
<line x1="396.40" y1="915.45" x2="405.40" y2="915.45" stroke="#000" stroke-width="2" />
<text transform="translate(394.10,920.75) scale(1,1.07)" font-size="13.5" text-anchor="end" font-weight="bold">0.5</text>
<line x1="396.40" y1="842.30" x2="405.40" y2="842.30" stroke="#000" stroke-width="2" />
<text transform="translate(394.10,847.60) scale(1,1.07)" font-size="13.5" text-anchor="end" font-weight="bold">1.0</text>
<line x1="396.40" y1="769.15" x2="405.40" y2="769.15" stroke="#000" stroke-width="2" />
<text transform="translate(394.10,774.45) scale(1,1.07)" font-size="13.5" text-anchor="end" font-weight="bold">1.5</text>
<text transform="translate(364.3,879.9) rotate(-90)" font-size="18" text-anchor="middle">mRNA expression (fold change)</text>
<line x1="423.80" y1="988.60" x2="423.80" y2="997.80" stroke="#000" stroke-width="2" />
<text transform="translate(429.30,1011.50) rotate(-45)" font-size="15" text-anchor="end">Control</text>
<line x1="461.80" y1="988.60" x2="461.80" y2="997.80" stroke="#000" stroke-width="2" />
<text transform="translate(467.30,1011.50) rotate(-45)" font-size="15" text-anchor="end">RANTES</text>
<line x1="499.80" y1="988.60" x2="499.80" y2="997.80" stroke="#000" stroke-width="2" />
<text transform="translate(505.30,1011.50) rotate(-45)" font-size="15" text-anchor="end">Bcl-xL</text>
<line x1="537.40" y1="988.60" x2="537.40" y2="997.80" stroke="#000" stroke-width="2" />
<text transform="translate(542.90,1011.50) rotate(-45)" font-size="15" text-anchor="end">NFE2a</text>
<line x1="575.10" y1="988.60" x2="575.10" y2="997.80" stroke="#000" stroke-width="2" />
<text transform="translate(580.60,1011.50) rotate(-45)" font-size="15" text-anchor="end">NFE2f</text>
<line x1="613.10" y1="988.60" x2="613.10" y2="997.80" stroke="#000" stroke-width="2" />
<text transform="translate(618.60,1011.50) rotate(-45)" font-size="15" text-anchor="end">RUNX1</text>
<line x1="461.90" y1="816.30" x2="461.90" y2="794.40" stroke="#1a1a1a" stroke-width="1.3" />
<line x1="455.80" y1="794.40" x2="467.70" y2="794.40" stroke="#111" stroke-width="1.3" />
<line x1="499.60" y1="814.00" x2="499.60" y2="787.00" stroke="#1a1a1a" stroke-width="1.3" />
<line x1="493.30" y1="787.00" x2="505.70" y2="787.00" stroke="#111" stroke-width="1.3" />
<line x1="537.20" y1="817.30" x2="537.20" y2="798.50" stroke="#1a1a1a" stroke-width="1.3" />
<line x1="531.00" y1="798.50" x2="543.70" y2="798.50" stroke="#111" stroke-width="1.3" />
<line x1="575.00" y1="805.00" x2="575.00" y2="779.40" stroke="#1a1a1a" stroke-width="1.3" />
<line x1="568.90" y1="779.40" x2="581.10" y2="779.40" stroke="#111" stroke-width="1.3" />
<line x1="612.90" y1="840.40" x2="612.90" y2="813.80" stroke="#1a1a1a" stroke-width="1.3" />
<line x1="606.70" y1="813.80" x2="619.00" y2="813.80" stroke="#111" stroke-width="1.3" />
<path d="M430.20,689.90 V686.90 H620.00 V689.90" fill="none" stroke="#222" stroke-width="1.3"/>
<text x="502.30" y="682.60" font-size="11.8" text-anchor="start" font-weight="normal" fill="#1a1a1a" >p=0.6667</text>
<path d="M429.50,707.30 V704.30 H567.40 V707.30" fill="none" stroke="#222" stroke-width="1.3"/>
<text x="481.30" y="701.30" font-size="11.8" text-anchor="start" font-weight="normal" fill="#1a1a1a" >p=0.0130</text>
<path d="M429.50,730.60 V727.60 H535.80 V730.60" fill="none" stroke="#222" stroke-width="1.3"/>
<text x="456.00" y="724.30" font-size="11.8" text-anchor="start" font-weight="normal" fill="#1a1a1a" >p=0.0087</text>
<path d="M429.50,756.30 V753.30 H496.60 V756.30" fill="none" stroke="#222" stroke-width="1.3"/>
<text x="438.50" y="749.50" font-size="11.8" text-anchor="start" font-weight="normal" fill="#1a1a1a" >p=0.0152</text>
<path d="M429.20,782.70 V779.70 H462.70 V782.70" fill="none" stroke="#222" stroke-width="1.3"/>
<text x="426.70" y="775.90" font-size="11.8" text-anchor="start" font-weight="normal" fill="#1a1a1a" >p=0.0260</text>
</svg>
</body></html>
